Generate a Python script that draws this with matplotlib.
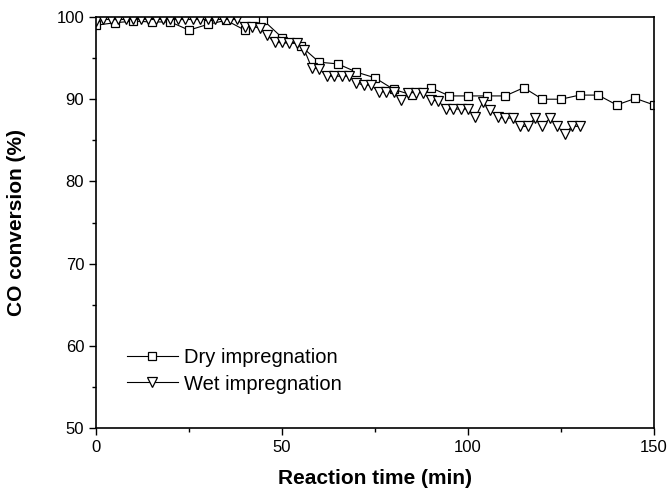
import numpy as np
import matplotlib.pyplot as plt
from matplotlib.ticker import MultipleLocator

plt.rcParams['font.family'] = ['Liberation Sans', 'DejaVu Sans']

# Dry impregnation, every 5 min
dry_time = list(range(0, 155, 5))
dry_conv = [99.0, 99.3, 99.5, 99.4, 99.4, 98.4, 99.1, 99.6, 98.4, 99.6,
            97.5, 96.5, 94.5, 94.3, 93.3, 92.6, 91.2, 90.5, 91.4, 90.4,
            90.4, 90.4, 90.4, 91.4, 90.0, 90.0, 90.5, 90.5, 89.3, 90.1,
            89.3]

# Wet impregnation, every 2 min
wet_time = list(range(0, 132, 2))
wet_conv = [99.5, 99.7, 99.7, 99.7, 99.7, 99.7, 99.7, 99.7, 99.7, 99.7,
            99.7, 99.7, 99.7, 99.7, 99.7, 99.7, 99.7, 99.7, 99.7, 99.7,
            98.8, 98.8, 98.7, 97.8, 96.9, 96.9, 96.8, 96.8, 96.0, 93.8,
            93.7, 92.8, 92.8, 92.8, 92.8, 92.0, 91.7, 91.7, 90.9, 90.9,
            90.9, 89.9, 90.8, 90.8, 90.8, 89.9, 89.8, 88.8, 88.8, 88.8,
            88.8, 87.8, 89.7, 88.7, 87.8, 87.7, 87.7, 86.7, 86.7, 87.7,
            86.7, 87.7, 86.7, 85.8, 86.7, 86.7]

fig = plt.figure(figsize=(6.72, 4.96), dpi=100)
ax = fig.add_axes([0.1429, 0.1371, 0.8303, 0.8286])

ax.plot(dry_time, dry_conv, color='black', lw=0.8, marker='s', ms=5.5,
        mfc='white', mec='black', mew=0.9, label='Dry impregnation')
ax.plot(wet_time, wet_conv, color='black', lw=0.8, marker='v', ms=7,
        mfc='white', mec='black', mew=0.9, label='Wet impregnation')

ax.set_xlim(0, 150)
ax.set_ylim(50, 100)
ax.xaxis.set_major_locator(MultipleLocator(50))
ax.xaxis.set_minor_locator(MultipleLocator(25))
ax.yaxis.set_major_locator(MultipleLocator(10))
ax.yaxis.set_minor_locator(MultipleLocator(5))
ax.tick_params(which='major', direction='out', length=5, width=1, labelsize=12)
ax.tick_params(which='minor', direction='out', length=3, width=1)
for s in ax.spines.values():
    s.set_linewidth(1.2)

ax.set_xlabel('Reaction time (min)', fontsize=15, fontweight='bold')
ax.set_ylabel('CO conversion (%)', fontsize=15, fontweight='bold')
ax.xaxis.set_label_coords(0.5, -0.1)
ax.yaxis.set_label_coords(-0.125, 0.5)

ax.legend(loc='upper left', bbox_to_anchor=(0.056, 0.195), frameon=False,
          fontsize=14.5, handlelength=2.5, handletextpad=0.3, labelspacing=0.38,
          borderpad=0, borderaxespad=0)

fig.savefig('out.png', dpi=100)
